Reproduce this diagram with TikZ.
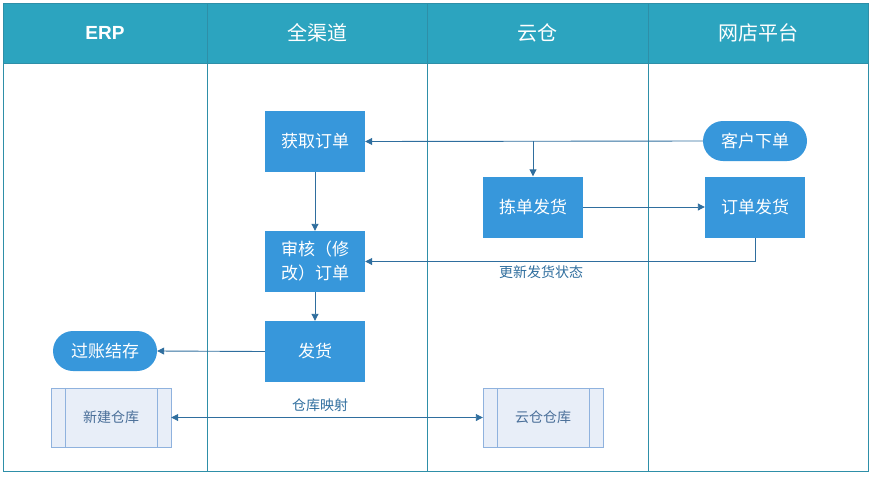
\documentclass[tikz,border=0pt]{standalone}
\usepackage{fontspec}
\setmainfont{Liberation Sans}
\newfontfamily\cjk{Noto Sans CJK SC}
\usetikzlibrary{arrows.meta}
\definecolor{headbg}{RGB}{44,164,191}
\definecolor{laneline}{RGB}{46,143,168}
\definecolor{boxblue}{RGB}{55,151,219}
\definecolor{arrowc}{RGB}{47,110,158}
\definecolor{subfill}{RGB}{232,238,248}
\definecolor{subline}{RGB}{143,178,222}
\definecolor{subtext}{RGB}{74,111,153}
\tikzset{
  task/.style={fill=boxblue, text=white, minimum width=100pt, minimum height=61pt,
    inner sep=2pt, align=center, font=\cjk\fontsize{17}{24}\selectfont},
  term/.style={task, rounded corners=20pt, minimum width=104pt, minimum height=40pt},
  sub/.style={draw=subline, fill=subfill, text=subtext, minimum width=120pt,
    minimum height=59pt, font=\cjk\fontsize{14}{16}\selectfont},
  flow/.style={draw=arrowc, line width=0.9pt, -{Triangle[length=7pt,width=7pt]}},
  lbl/.style={text=arrowc, font=\cjk\fontsize{14}{16}\selectfont},
  head/.style={text=white, font=\fontsize{19}{22}\selectfont\bfseries},
  cjkhead/.style={text=white, font=\cjk\fontsize{20}{22}\selectfont},
}
\begin{document}
\begin{tikzpicture}[x=1pt,y=-1pt]
    \useasboundingbox (0,0) rectangle (874,477);
    % swimlanes
    \fill[headbg] (3,3) rectangle (868,63);
    \draw[laneline, line width=1pt] (3,3) rectangle (868,471);
    \draw[laneline, line width=1pt] (3,63) -- (868,63);
    \foreach \x in {207,427,648}
        \draw[laneline, line width=1pt] (\x,3) -- (\x,471);
    \node[head] (hERP) at (105,33) {ERP};
    \node[cjkhead] (hAll) at (317,33) {全渠道};
    \node[cjkhead] (hCloud) at (537,33) {云仓};
    \node[cjkhead] (hShop) at (758,33) {网店平台};
    % steps
    \node[task] (fetch) at (315,141.5) {获取订单};
    \node[task] (audit) at (315,261.5) {审核（修\\改）订单};
    \node[task] (deliver) at (315,351.5) {发货};
    \node[term] (post) at (105,351) {过账结存};
    \node[task] (pick) at (533,207) {拣单发货};
    \node[term] (place) at (755,141) {客户下单};
    \node[task] (ship) at (755,207) {订单发货};
    \node[sub] (newwh) at (111,417.5) {新建仓库};
    \node[sub] (cloudwh) at (543,417.5) {云仓仓库};
    \foreach \b in {newwh,cloudwh} {
        \draw[subline] ([xshift=14pt]\b.north west) -- ([xshift=14pt]\b.south west);
        \draw[subline] ([xshift=-14pt]\b.north east) -- ([xshift=-14pt]\b.south east);
    }
    % connectors
    \coordinate (br) at (pick.north |- place.west);
    \draw[flow] (place.west) -- (fetch.east);
    \draw[flow] (br) -- (pick.north);
    \draw[flow] (fetch.south) -- (audit.north);
    \draw[flow] (pick.east) -- (ship.west);
    \draw[flow] (ship.south) |- (audit.east);
    \draw[flow] (audit.south) -- (deliver.north);
    \draw[flow] (deliver.west) -- (post.east);
    \draw[flow, {Triangle[length=7pt,width=7pt]}-{Triangle[length=7pt,width=7pt]}] (newwh.east) -- (cloudwh.west);
    \node[lbl] (upd) at (541,272) {更新发货状态};
    \node[lbl] (map) at (320,405) {仓库映射};
\end{tikzpicture}
\end{document}
